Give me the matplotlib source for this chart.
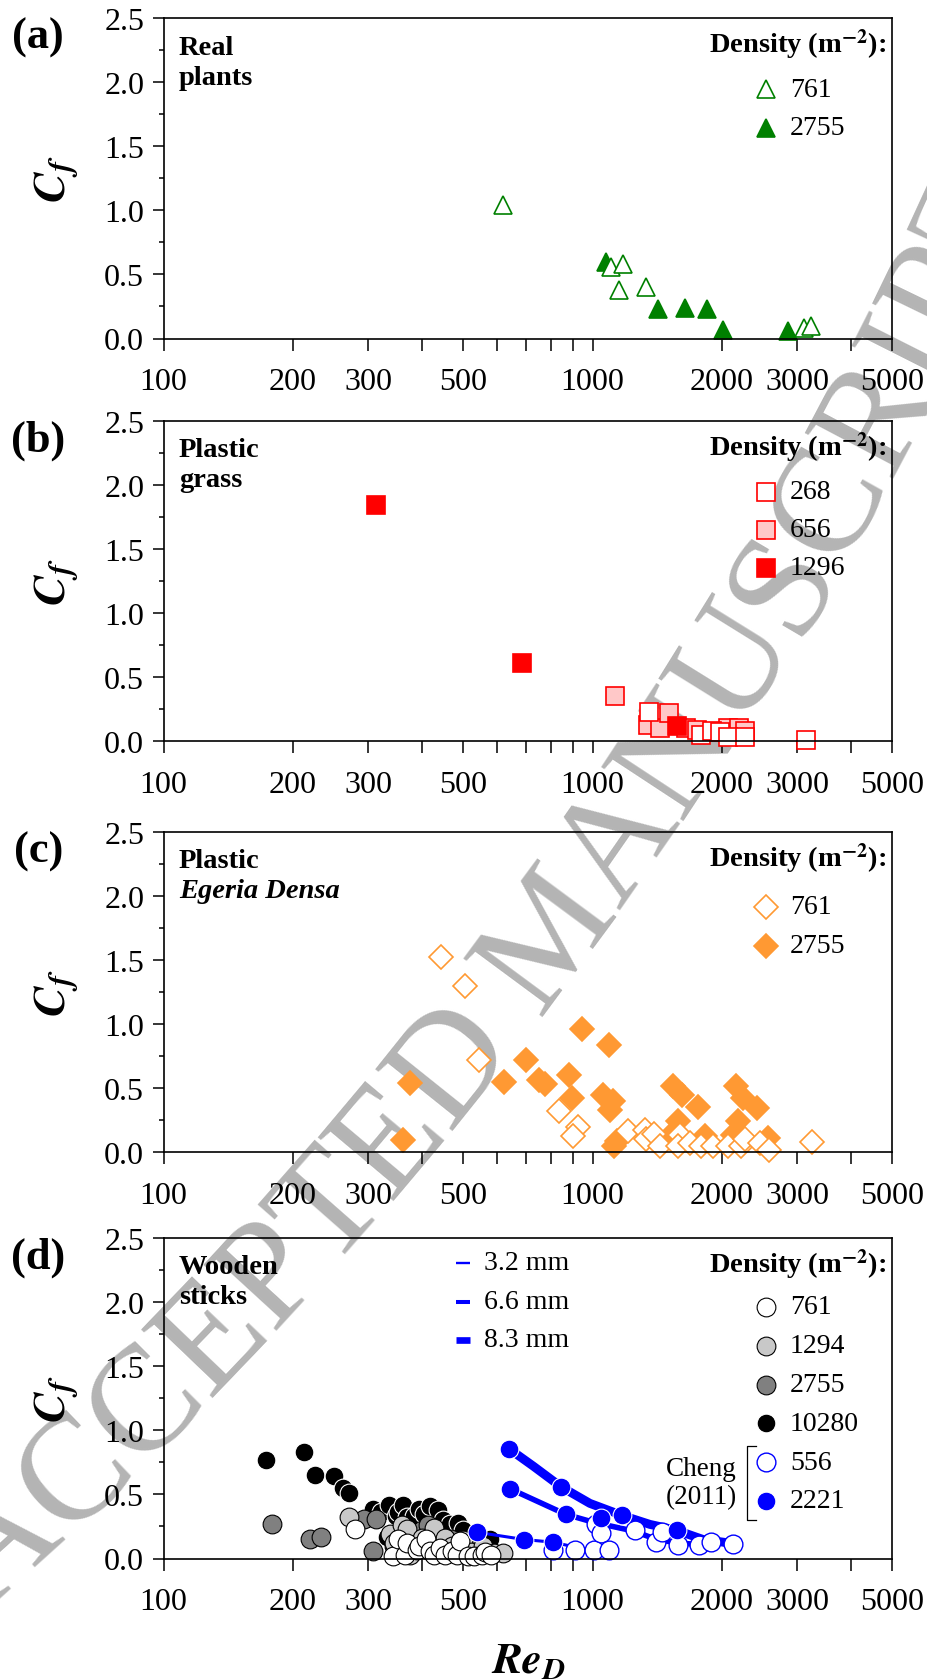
import numpy as np
import matplotlib
matplotlib.use('Agg')
import matplotlib.pyplot as plt
from matplotlib.ticker import FixedLocator, FixedFormatter, MultipleLocator, FormatStrFormatter, NullLocator
from matplotlib.font_manager import FontProperties, findfont, get_font

plt.rcParams['font.family'] = ['Liberation Serif', 'DejaVu Serif']
plt.rcParams['mathtext.fontset'] = 'stix'

# ---- data (Re_D, C_f) ----
# (a) real plants
real_761_re = [620, 1102, 1151, 1175, 1331, 3116, 3228]
real_761_cf = [1.04, 0.56, 0.38, 0.58, 0.40, 0.08, 0.10]
real_2755_re = [1073, 1422, 1639, 1845, 2017, 2858]
real_2755_cf = [0.60, 0.23, 0.24, 0.23, 0.07, 0.06]

# (b) plastic grass
grass_268_re = [1356, 1795, 1900, 1982, 2070, 2265, 3141]
grass_268_cf = [0.23, 0.05, 0.08, 0.07, 0.03, 0.03, 0.01]
grass_656_re = [1127, 1349, 1435, 1510, 1656, 1750, 2070, 2195, 2265]
grass_656_cf = [0.35, 0.13, 0.10, 0.22, 0.10, 0.09, 0.10, 0.10, 0.08]
grass_1296_re = [313, 684, 1574]
grass_1296_cf = [1.84, 0.61, 0.12]

# (c) plastic Egeria densa
egeria_761_re = [443, 503, 545, 836, 926, 899, 1210, 1325, 1335, 1390, 1435, 1600,
                 1585, 1685, 1790, 1910, 2070, 2215, 2265, 2462, 2584, 3250]
egeria_761_cf = [1.52, 1.30, 0.72, 0.32, 0.20, 0.125, 0.164, 0.177, 0.10, 0.143, 0.047, 0.138,
                 0.047, 0.073, 0.047, 0.047, 0.052, 0.047, 0.10, 0.073, 0.02, 0.078]
egeria_2755_re = [362, 375, 622, 698, 752, 775, 881, 897, 946, 1060, 1091, 1099, 1118, 1125,
                  1138, 1512, 1542, 1585, 1613, 1763, 1830, 2128, 2158, 2185, 2247, 2413, 2566]
egeria_2755_cf = [0.094, 0.54, 0.55, 0.716, 0.56, 0.53, 0.60, 0.425, 0.96, 0.45, 0.84, 0.33, 0.40, 0.05,
                  0.086, 0.125, 0.515, 0.24, 0.45, 0.355, 0.125, 0.138, 0.52, 0.24, 0.425, 0.347, 0.112]

# (d) wooden sticks
sticks_10280_re = [173, 212, 226, 250, 262, 271, 308, 322, 331, 336, 349, 352, 362, 369, 383, 395,
                   405, 418, 437, 447, 465, 487, 500, 576]
sticks_10280_cf = [0.77, 0.83, 0.65, 0.64, 0.55, 0.51, 0.39, 0.36, 0.17, 0.42, 0.33, 0.36, 0.42, 0.32,
                   0.33, 0.39, 0.35, 0.41, 0.38, 0.30, 0.27, 0.28, 0.22, 0.15]
sticks_2755_re = [179, 219, 233, 294, 307, 312, 345, 378, 400, 414, 430, 469, 520]
sticks_2755_cf = [0.27, 0.15, 0.17, 0.31, 0.06, 0.31, 0.10, 0.15, 0.22, 0.26, 0.20, 0.15, 0.08]
sticks_1294_re = [271, 337, 345, 360, 369, 375, 389, 400, 420, 426, 453, 470, 500, 520, 556, 590, 619]
sticks_1294_cf = [0.325, 0.19, 0.12, 0.26, 0.227, 0.03, 0.095, 0.16, 0.06, 0.24, 0.16, 0.10, 0.148,
                  0.05, 0.095, 0.04, 0.044]
sticks_761_re = [279, 343, 352, 365, 369, 389, 395, 410, 418, 426, 440, 453, 470, 482, 491, 513,
                 530, 554, 560, 580]
sticks_761_cf = [0.23, 0.02, 0.15, 0.03, 0.12, 0.07, 0.10, 0.15, 0.06, 0.03, 0.08, 0.03, 0.06, 0.03,
                 0.135, 0.02, 0.02, 0.03, 0.05, 0.03]

cheng_556_re = [809, 910, 1007, 1019, 1046, 1092, 1256, 1406, 1456, 1585, 1774, 1889, 2128]
cheng_556_cf = [0.07, 0.07, 0.07, 0.266, 0.20, 0.065, 0.22, 0.127, 0.205, 0.109, 0.109, 0.13, 0.117]
cheng_2221_re = [537, 638, 642, 693, 809, 844, 867, 1046, 1172, 1574]
cheng_2221_cf = [0.205, 0.857, 0.544, 0.148, 0.127, 0.56, 0.344, 0.318, 0.336, 0.219]

# curves through Cheng (2011) data, one per stem diameter
fit_32_re = [537, 693, 809, 909]
fit_32_cf = [0.205, 0.148, 0.127, 0.09]
fit_66_re = [642, 867, 1012, 1245, 1406, 1585, 1763]
fit_66_cf = [0.544, 0.344, 0.28, 0.215, 0.15, 0.12, 0.11]
fit_83_re = [638, 728, 844, 986, 1172, 1361, 1574, 1811, 2128]
fit_83_cf = [0.857, 0.72, 0.56, 0.43, 0.336, 0.266, 0.219, 0.148, 0.117]
diam_labels = ['3.2 mm', '6.6 mm', '8.3 mm']

xticks = [100, 200, 300, 400, 500, 600, 700, 800, 900, 1000, 2000, 3000, 4000, 5000]
xtick_labels = ['100', '200', '300', '', '500', '', '', '', '', '1000', '2000', '3000', '', '5000']

# ---- layout ----
W, H = 927, 1681
left_px, right_px = 163.6, 892.3
tops = [19, 421.7, 832.7, 1239]
ax_h = 320.5

fig = plt.figure(figsize=(W / 100, H / 100), dpi=100)

CF_LABEL = r'$\mathbfit{C}_{\mathbfit{f}}$'
RE_LABEL = r'$\mathbfit{Re}_{\mathbfit{D}}$'
DENSITY_TITLE = r'Density (m$^{\mathbf{-2}}$):'


def fy(px):
    # pixels below the top of an axes -> axes fraction
    return 1 - px / ax_h


def style_axis(ax):
    ax.set_xscale('log')
    ax.set_xlim(100, 5000)
    ax.set_ylim(0, 2.5)
    ax.xaxis.set_major_locator(FixedLocator(xticks))
    ax.xaxis.set_major_formatter(FixedFormatter(xtick_labels))
    ax.xaxis.set_minor_locator(NullLocator())
    ax.yaxis.set_major_locator(MultipleLocator(0.5))
    ax.yaxis.set_minor_locator(MultipleLocator(0.25))
    ax.yaxis.set_major_formatter(FormatStrFormatter('%.1f'))
    ax.tick_params(axis='x', which='major', direction='out', length=8.6, width=1.1, pad=12, labelsize=23)
    ax.tick_params(axis='y', which='major', direction='out', length=8, width=1.1, pad=6, labelsize=23)
    ax.tick_params(axis='y', which='minor', direction='out', length=3.8, width=1.1)
    for sp in ax.spines.values():
        sp.set_linewidth(1.2)
    ax.patch.set_alpha(0)


def panel_text(ax, tag, line1, line2, line2_style='normal'):
    ax.text(-0.172, fy(19), tag, transform=ax.transAxes, ha='center', va='center',
            fontsize=32, fontweight='bold')
    ax.text(-0.147, 0.5, CF_LABEL, transform=ax.transAxes, ha='center', va='center',
            rotation=90, fontsize=33)
    ax.text(0.021, fy(29), line1, transform=ax.transAxes, ha='left', va='center',
            fontsize=20.5, fontweight='bold')
    ax.text(0.021, fy(59), line2, transform=ax.transAxes, ha='left', va='center',
            fontsize=20.5, fontweight='bold', fontstyle=line2_style)


def density_legend(ax, entries, row0=71, dy=38.8):
    ax.text(0.9913, fy(26), DENSITY_TITLE, transform=ax.transAxes, ha='right',
            va='center', fontsize=20.5, fontweight='bold')
    for i, (label, kw) in enumerate(entries):
        yy = fy(row0 + dy * i)
        ax.plot([0.8267], [yy], transform=ax.transAxes, clip_on=False, linestyle='none', **kw)
        ax.text(0.8596, yy, label, transform=ax.transAxes, ha='left', va='center', fontsize=20)


axes = []
for t in tops:
    ax = fig.add_axes([left_px / W, 1 - (t + ax_h) / H, (right_px - left_px) / W, ax_h / H])
    style_axis(ax)
    axes.append(ax)
ax_a, ax_b, ax_c, ax_d = axes

green = '#008000'
red = '#ff0000'
pink = '#ffc8c8'
orange = '#ff9933'
blue = '#0000ff'

# (a)
tri_open = dict(marker='^', ms=13.5, mfc='white', mec=green, mew=1.2)
tri_fill = dict(marker='^', ms=13.5, mfc=green, mec=green, mew=1.2)
ax_a.plot(real_2755_re, real_2755_cf, linestyle='none', clip_on=False, **tri_fill)
ax_a.plot(real_761_re, real_761_cf, linestyle='none', clip_on=False, **tri_open)
panel_text(ax_a, '(a)', 'Real', 'plants')
density_legend(ax_a, [('761', tri_open), ('2755', tri_fill)])

# (b)
sq_268 = dict(marker='s', ms=13.5, mfc='white', mec=red, mew=1.2)
sq_656 = dict(marker='s', ms=13.5, mfc=pink, mec=red, mew=1.2)
sq_1296 = dict(marker='s', ms=13.5, mfc=red, mec=red, mew=1.2)
ax_b.plot(grass_656_re, grass_656_cf, linestyle='none', clip_on=False, **sq_656)
ax_b.plot(grass_1296_re, grass_1296_cf, linestyle='none', clip_on=False, **sq_1296)
ax_b.plot(grass_268_re, grass_268_cf, linestyle='none', clip_on=False, **sq_268)
panel_text(ax_b, '(b)', 'Plastic', 'grass')
density_legend(ax_b, [('268', sq_268), ('656', sq_656), ('1296', sq_1296)], row0=71, dy=38)

# (c)
dia_open = dict(marker='D', ms=12, mfc='white', mec=orange, mew=1.2)
dia_fill = dict(marker='D', ms=12, mfc=orange, mec=orange, mew=1.2)
ax_c.plot(egeria_2755_re, egeria_2755_cf, linestyle='none', clip_on=False, **dia_fill)
ax_c.plot(egeria_761_re, egeria_761_cf, linestyle='none', clip_on=False, **dia_open)
panel_text(ax_c, '(c)', 'Plastic', 'Egeria Densa', line2_style='italic')
density_legend(ax_c, [('761', dia_open), ('2755', dia_fill)], row0=75, dy=39)

# (d)
c_10280 = dict(marker='o', ms=13.5, mfc='black', mec='white', mew=0.8)
c_2755 = dict(marker='o', ms=13.5, mfc='#808080', mec='black', mew=0.8)
c_1294 = dict(marker='o', ms=13.5, mfc='#c8c8c8', mec='black', mew=0.8)
c_761 = dict(marker='o', ms=13.5, mfc='white', mec='black', mew=0.8)
c_556 = dict(marker='o', ms=13.5, mfc='white', mec=blue, mew=1.0)
c_2221 = dict(marker='o', ms=13.5, mfc=blue, mec='white', mew=0.8)
ax_d.plot(sticks_10280_re, sticks_10280_cf, linestyle='none', clip_on=False, **c_10280)
ax_d.plot(sticks_2755_re, sticks_2755_cf, linestyle='none', clip_on=False, **c_2755)
ax_d.plot(sticks_1294_re, sticks_1294_cf, linestyle='none', clip_on=False, **c_1294)
ax_d.plot(sticks_761_re, sticks_761_cf, linestyle='none', clip_on=False, **c_761)

fit_lw = [2.2, 4.0, 6.4]
for re, cf, lw in zip([fit_32_re, fit_66_re, fit_83_re], [fit_32_cf, fit_66_cf, fit_83_cf], fit_lw):
    ax_d.plot(re, cf, color=blue, lw=lw, solid_joinstyle='round', solid_capstyle='round')
ax_d.plot(cheng_556_re, cheng_556_cf, linestyle='none', clip_on=False, **c_556)
ax_d.plot(cheng_2221_re, cheng_2221_cf, linestyle='none', clip_on=False, **c_2221)

panel_text(ax_d, '(d)', 'Wooden', 'sticks')
density_legend(ax_d, [('761', c_761), ('1294', c_1294), ('2755', c_2755), ('10280', c_10280),
                      ('556', c_556), ('2221', c_2221)], row0=69, dy=38.8)

# diameter legend
for i, (lab, lw) in enumerate(zip(diam_labels, [1.7, 2.9, 4.8])):
    yy = fy(25 + 38.5 * i)
    ax_d.plot([0.4013, 0.4205], [yy, yy], transform=ax_d.transAxes, color=blue, lw=lw,
              solid_capstyle='butt')
    ax_d.text(0.4397, yy, lab, transform=ax_d.transAxes, ha='left', va='center', fontsize=20)

# Cheng (2011) bracket
ax_d.plot([0.8129, 0.8006, 0.8006, 0.8129], [fy(207.7), fy(207.7), fy(281.7), fy(281.7)],
          transform=ax_d.transAxes, color='black', lw=0.9, clip_on=False)
ax_d.text(0.7869, fy(231), 'Cheng', transform=ax_d.transAxes, ha='right', va='center', fontsize=19.5)
ax_d.text(0.7869, fy(259), '(2011)', transform=ax_d.transAxes, ha='right', va='center', fontsize=19.5)

ax_d.text(0.5, fy(423), RE_LABEL, transform=ax_d.transAxes, ha='center', va='center', fontsize=32)

# ---- "ACCEPTED MANUSCRIPT" watermark along an arc ----
wm_text = 'ACCEPTED MANUSCRIPT'
wm_size = 108
wm_cx, wm_cy, wm_r = -2750.0, 3179.0, 4140.0
wm_theta0 = np.deg2rad(-47.9)
fp = FontProperties(family='Liberation Serif', size=wm_size)
font = get_font(findfont(fp))
font.set_size(wm_size, 100)
adv = []
for ch in wm_text:
    g = font.load_char(ord(ch))
    adv.append(g.linearHoriAdvance / 65536)
pos = np.cumsum([0] + adv[:-1]) + np.array(adv) / 2 - adv[0] / 2
for ch, s in zip(wm_text, pos):
    th = wm_theta0 + s / wm_r
    x = wm_cx + wm_r * np.cos(th)
    y = wm_cy + wm_r * np.sin(th)
    rot = np.rad2deg(th) + 90
    fig.text(x / W, y / H, ch, fontproperties=fp, color='#b4b4b4', rotation=rot,
             rotation_mode='anchor', ha='center', va='baseline', zorder=-5)

fig.savefig('out.png', dpi=100)
